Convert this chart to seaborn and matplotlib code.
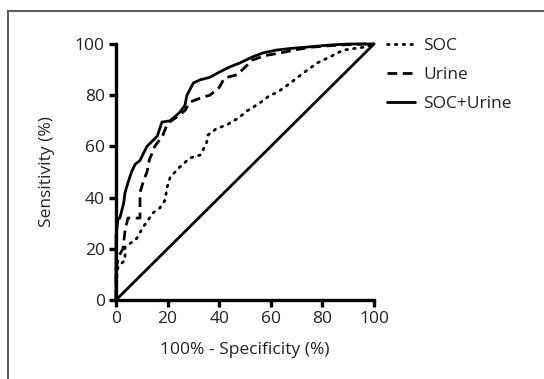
import seaborn as sns
import pandas as pd
import matplotlib.pyplot as plt
from matplotlib.patches import Rectangle

# ROC curves (100% - specificity, sensitivity)
soc_x = [0, 0.4, 0.8, 3.5, 3.5, 5.4, 8, 10.5, 12, 14.3, 17, 19, 19.8, 21, 24.8, 28.7, 32.6, 35, 35.7, 39, 43, 47.3, 51, 55.8, 59.7, 62.4, 67.4, 72.5, 78, 83, 88, 93.4, 96.5, 100]
soc_y = [0, 10.5, 13, 15.6, 20.7, 22, 24, 28.5, 30.5, 34, 36, 39, 44, 48, 52, 55.5, 56.6, 61, 64.5, 67, 68.4, 71, 74, 77, 80, 81, 84.6, 88.6, 92.6, 95, 97.6, 98.4, 98.8, 100]

urine_x = [0, 0, 1, 2.7, 3.5, 4.6, 9.3, 9.3, 10.5, 12, 13, 14.3, 15, 18, 20, 23.6, 26.7, 28.7, 33.7, 36.4, 40, 42, 47, 53, 58, 63.6, 70, 76, 85, 96, 100]
urine_y = [0, 12, 17, 20, 27, 32, 32, 42, 46, 50, 55, 58, 60, 64, 69, 71.5, 74, 77.3, 79.3, 80, 83, 86.7, 88, 93.8, 95.5, 96.5, 97.8, 98.8, 99.5, 100, 100]

combo_x = [0, 0, 0.8, 1.5, 3, 3.5, 4.7, 6, 7.4, 9.3, 10.5, 12, 14, 16, 17.8, 21, 24.8, 26.7, 27.5, 30, 32.6, 36.4, 40, 44, 48, 53, 57, 62, 68, 74, 83, 90, 100]
combo_y = [0, 25, 32, 32, 38, 42, 46, 50, 53, 54.5, 57, 60, 62, 64, 69.5, 70, 73.4, 76, 80, 84.8, 86, 87, 89, 91, 92.6, 95, 96.5, 97.6, 98.3, 98.8, 99.6, 100, 100]

ref_x = [0, 100]
ref_y = [0, 100]

ticks = [0, 20, 40, 60, 80, 100]

sns.set_style("ticks")
plt.rcParams['font.family'] = ['Open Sans', 'DejaVu Sans']

fig = plt.figure(figsize=(5.44, 3.79), dpi=100)
ax = fig.add_axes([116/544, 79/379, 258/544, 256/379])

lw = 2.0
fs = 12.5
sns.lineplot(x=soc_x, y=soc_y, sort=False, estimator=None, ax=ax, color="black",
             linewidth=lw, linestyle=(0, (0.6, 2.2)), dash_capstyle="round", label="SOC", clip_on=False)
sns.lineplot(x=urine_x, y=urine_y, sort=False, estimator=None, ax=ax, color="black",
             linewidth=lw, linestyle=(0, (3.5, 2.0)), label="Urine", clip_on=False)
sns.lineplot(x=combo_x, y=combo_y, sort=False, estimator=None, ax=ax, color="black",
             linewidth=lw, linestyle="-", label="SOC+Urine", clip_on=False)
sns.lineplot(x=ref_x, y=ref_y, sort=False, estimator=None, ax=ax, color="black",
             linewidth=lw, linestyle="-", label="_ref", clip_on=False)

ax.set_xlim(0, 100)
ax.set_ylim(0, 100)
ax.set_xticks(ticks)
ax.set_yticks(ticks)
sns.despine(ax=ax)
for s in ["left", "bottom"]:
    ax.spines[s].set_linewidth(2.4)
    ax.spines[s].set_color("black")
ax.tick_params(width=2.4, length=5, labelsize=fs, colors="black", pad=3)
for t in ax.get_xticklabels() + ax.get_yticklabels():
    t.set_color("#222222")

ax.set_xlabel("100% - Specificity (%)", fontsize=fs, color="#222222", labelpad=11)
ax.set_ylabel("Sensitivity (%)", fontsize=fs, color="#222222", labelpad=14)

leg = ax.legend(loc="upper left", bbox_to_anchor=(1.052, 1.025), frameon=False,
                fontsize=fs, handlelength=1.6, handletextpad=0.45, labelspacing=0.75,
                borderpad=0, borderaxespad=0)
for t in leg.get_texts():
    t.set_color("#222222")

# partial frame around the figure
fig.patches.append(Rectangle((8/544, -0.1), 1.2, (379 - 11)/379 + 0.1, transform=fig.transFigure,
                             fill=False, edgecolor="#5f5f5f", linewidth=1.5))

fig.savefig("out.png", dpi=100)
